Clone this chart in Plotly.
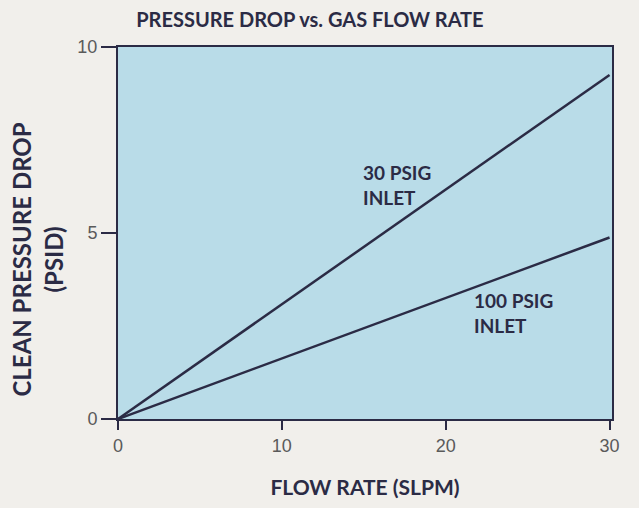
import plotly.graph_objects as go

flow = [0, 30]
psig30 = [0, 9.25]
psig100 = [0, 4.88]
x_ticks = [0, 10, 20, 30]
y_ticks = [0, 5, 10]
labels = ["30 PSIG<br>INLET", "100 PSIG<br>INLET"]
label_x = [14.85, 21.6]
label_y = [6.3, 2.85]

navy = "#2b2b45"
fig = go.Figure()
fig.add_trace(go.Scatter(x=flow, y=psig30, mode="lines", line=dict(color=navy, width=2.5), showlegend=False))
fig.add_trace(go.Scatter(x=flow, y=psig100, mode="lines", line=dict(color=navy, width=2.5), showlegend=False))

for t, xx, yy in zip(labels, label_x, label_y):
    fig.add_annotation(x=xx, y=yy, text=t, showarrow=False, xanchor="left", align="left",
                       font=dict(family="Lato", size=19, color=navy, weight="bold"))

fig.add_annotation(xref="paper", yref="paper", x=-0.163, y=0.43, text="CLEAN PRESSURE DROP<br>(PSID)",
                   textangle=-90, showarrow=False, align="center", xanchor="center", yanchor="middle",
                   font=dict(family="Lato", size=24, color=navy, weight="bold"))

fig.update_layout(
    width=639, height=508,
    margin=dict(l=118, r=27, t=47, b=85),
    paper_bgcolor="#f1efeb",
    plot_bgcolor="#b9dce8",
    title=dict(text="PRESSURE DROP vs. GAS FLOW RATE", x=0.485, xanchor="center", y=0.96, yanchor="middle",
               font=dict(family="Lato", size=20, color=navy, weight="bold")),
    xaxis=dict(range=[0, 30.15], tickvals=x_ticks, ticks="outside", ticklen=9, tickwidth=1.5, tickcolor=navy,
               showgrid=False, zeroline=False, showline=True, linecolor=navy, linewidth=2, mirror=True,
               tickfont=dict(family="Liberation Sans", size=18, color="#5a5a5a"),
               title=dict(text="FLOW RATE (SLPM)", standoff=26,
                          font=dict(family="Lato", size=21, color=navy, weight="bold"))),
    yaxis=dict(range=[0, 10], tickvals=y_ticks, ticks="outside", ticklen=15, tickwidth=1.5, tickcolor=navy,
               showgrid=False, zeroline=False, showline=True, linecolor=navy, linewidth=2, mirror=True,
               tickfont=dict(family="Liberation Sans", size=18, color="#5a5a5a")),
)
fig.write_html("out.html", config={"displayModeBar": False},
               post_script="document.body.style.margin='0';document.body.style.background='#f1efeb';document.body.style.overflow='hidden';")
